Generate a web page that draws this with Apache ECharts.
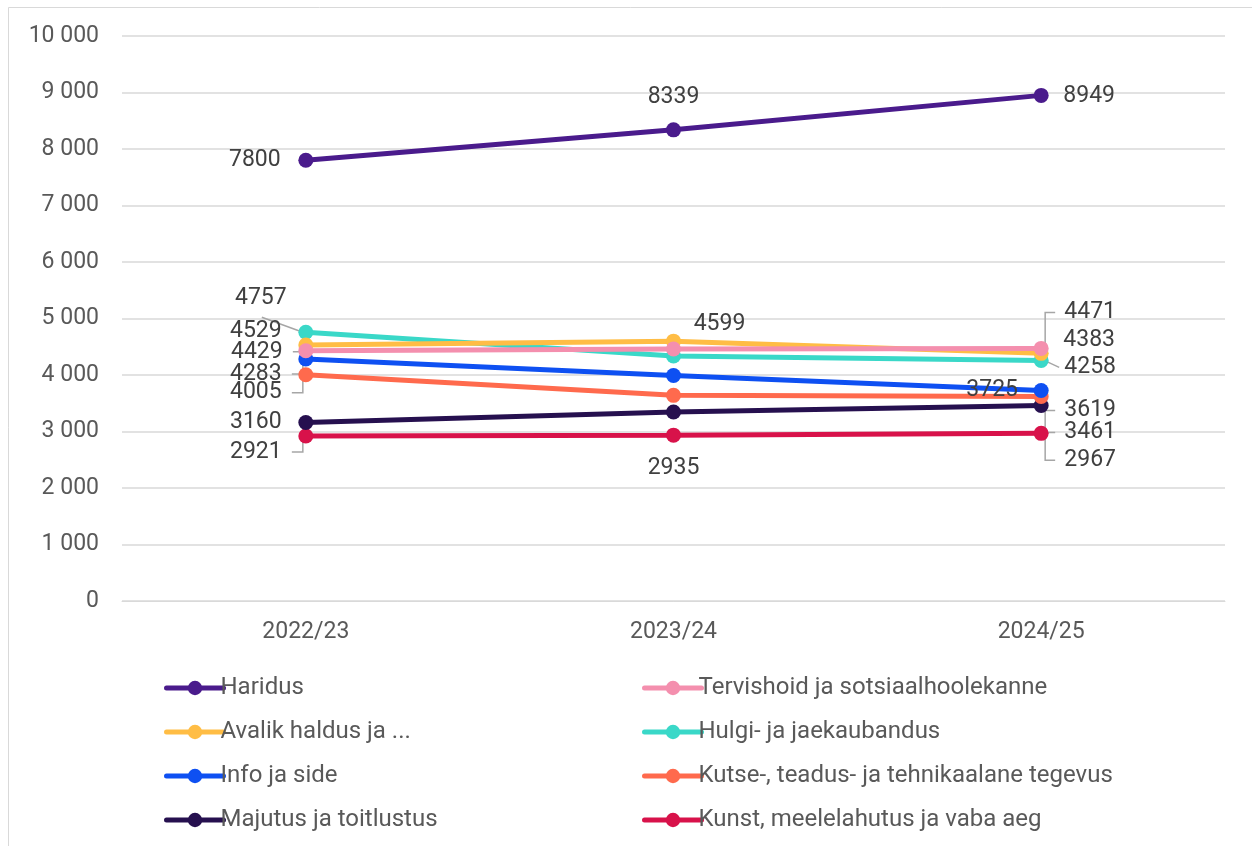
<!DOCTYPE html>
<html>
<head>
<meta charset="utf-8">
<script src="https://cdn.jsdelivr.net/npm/echarts@6/dist/echarts.min.js"></script>
<style>
  html, body { margin: 0; padding: 0; background: #fff; }
  #chart { width: 1252px; height: 846px; }
</style>
</head>
<body>
<div id="chart"></div>
<script>
// andmed
var years = ['2022/23', '2023/24', '2024/25'];
var names = ['Haridus', 'Tervishoid ja sotsiaalhoolekanne', 'Avalik haldus ja ...', 'Hulgi- ja jaekaubandus',
  'Info ja side', 'Kutse-, teadus- ja tehnikaalane tegevus', 'Majutus ja toitlustus', 'Kunst, meelelahutus ja vaba aeg'];
var haridus = [7800, 8339, 8949];
var tervishoid = [4429, 4460, 4471];
var avalik = [4529, 4599, 4383];
var hulgi = [4757, 4336, 4258];
var info = [4283, 3990, 3725];
var kutse = [4005, 3640, 3619];
var majutus = [3160, 3345, 3461];
var kunst = [2921, 2935, 2967];
var values = [haridus, tervishoid, avalik, hulgi, info, kutse, majutus, kunst];
var yTicks = [0, 1000, 2000, 3000, 4000, 5000, 6000, 7000, 8000, 9000, 10000];

var colors = ['#4a1b8c', '#f48fae', '#ffbd45', '#3ad8c8', '#0e50f2', '#ff6a4d', '#26104f', '#d8124a'];

// sildi nihked punkti suhtes [dx, dy, juhtjoon: 0 pole, 1 murdjoon, 2 sirge]; null = silti pole
var labelOffsets = [
  [[-51, 0, 0], [0, -33, 0], [48, 1, 0]],
  [[-49, 1, 1], null, [49, -36, 1]],
  [[-50, -14, 0], [46, -17, 0], [48, -13, 0]],
  [[-45, -34, 2], null, [49, 7, 2]],
  [[-50, 15, 1], null, [-49, 0, 0]],
  [[-50, 18, 1], null, [49, 14, 1]],
  [[-50, 0, 0], null, [49, 27, 1]],
  [[-50, 16, 1], [0, 33, 0], [49, 27, 1]]
];

var series = names.map(function (n, i) {
  return {
    name: n,
    type: 'line',
    data: values[i].map(function (v, j) {
      return { value: v, label: { show: !!labelOffsets[i][j] } };
    }),
    color: colors[i],
    symbol: 'circle',
    symbolSize: 15,
    lineStyle: { width: 5, color: colors[i] },
    itemStyle: { color: colors[i] },
    label: {
      show: true,
      position: 'inside',
      color: '#404040',
      fontSize: 23,
      fontFamily: 'Roboto'
    },
    labelLayout: function (p) {
      var o = labelOffsets[p.seriesIndex][p.dataIndex];
      if (!o) return {};
      return { dx: o[0], dy: o[1] };
    },
    z: 10 - i
  };
});

// juhtjooned (Exceli stiilis murdjooned)
var leaders = [];
labelOffsets.forEach(function (row, i) {
  row.forEach(function (o, j) {
    if (o && o[2]) leaders.push([j, values[i][j], o[0], o[1], o[2]]);
  });
});

series.push({
  type: 'custom',
  silent: true,
  z: 1,
  data: leaders,
  renderItem: function (params, api) {
    var p = api.coord([api.value(0), api.value(1)]);
    var dx = api.value(2), dy = api.value(3), kind = api.value(4);
    var halfW = 27, halfH = 9;
    var left = dx < 0;
    var cx = p[0] + dx, cy = p[1] + dy;
    var pts;
    if (kind === 2) {
      pts = left
        ? [[p[0] - 3, p[1]], [cx + 1, cy + halfH + 10]]
        : [[p[0] + 3, p[1]], [cx - halfW - 4, cy]];
    } else {
      var vx = left ? p[0] - 3 : p[0] + 4;
      var ex = left ? cx + halfW + 9 : cx - halfW - 8;
      pts = [[vx, p[1]], [vx, cy], [ex, cy]];
    }
    return {
      type: 'polyline',
      shape: { points: pts },
      style: { stroke: '#a6a6a6', lineWidth: 1.5, fill: null }
    };
  }
});

var legendBase = {
  orient: 'vertical',
  top: 670,
  itemWidth: 57,
  itemHeight: 18,
  itemGap: 18,
  lineStyle: { width: 5, cap: 'round' },
  textStyle: { color: '#595959', fontSize: 24, lineHeight: 26, padding: [0, 0, 0, -8] }
};

var chart = echarts.init(document.getElementById('chart'));
chart.setOption({
  animation: false,
  backgroundColor: '#fff',
  textStyle: { fontFamily: 'Roboto' },
  graphic: [{
    type: 'rect',
    shape: { x: 8.5, y: 7.5, width: 1260, height: 860 },
    style: { fill: 'none', stroke: '#d9d9d9', lineWidth: 1 },
    silent: true
  }],
  grid: { left: 122, right: 27, top: 36, bottom: 245 },
  xAxis: {
    type: 'category',
    data: years,
    boundaryGap: true,
    axisLine: { lineStyle: { color: '#d9d9d9' } },
    axisTick: { show: false },
    axisLabel: { color: '#595959', fontSize: 23, margin: 20 }
  },
  yAxis: {
    type: 'value',
    min: yTicks[0],
    max: yTicks[yTicks.length - 1],
    interval: 1000,
    axisLine: { show: false },
    axisTick: { show: false },
    splitLine: { lineStyle: { color: '#d9d9d9', width: 1.5 } },
    axisLabel: {
      color: '#595959',
      fontSize: 23,
      margin: 23,
      formatter: function (v) {
        return String(v).replace(/\B(?=(\d{3})+(?!\d))/g, ' ');
      }
    }
  },
  legend: [
    Object.assign({ data: [names[0], names[2], names[4], names[6]], left: 159 }, legendBase),
    Object.assign({ data: [names[1], names[3], names[5], names[7]], left: 637 }, legendBase)
  ],
  series: series
});
</script>
</body>
</html>
